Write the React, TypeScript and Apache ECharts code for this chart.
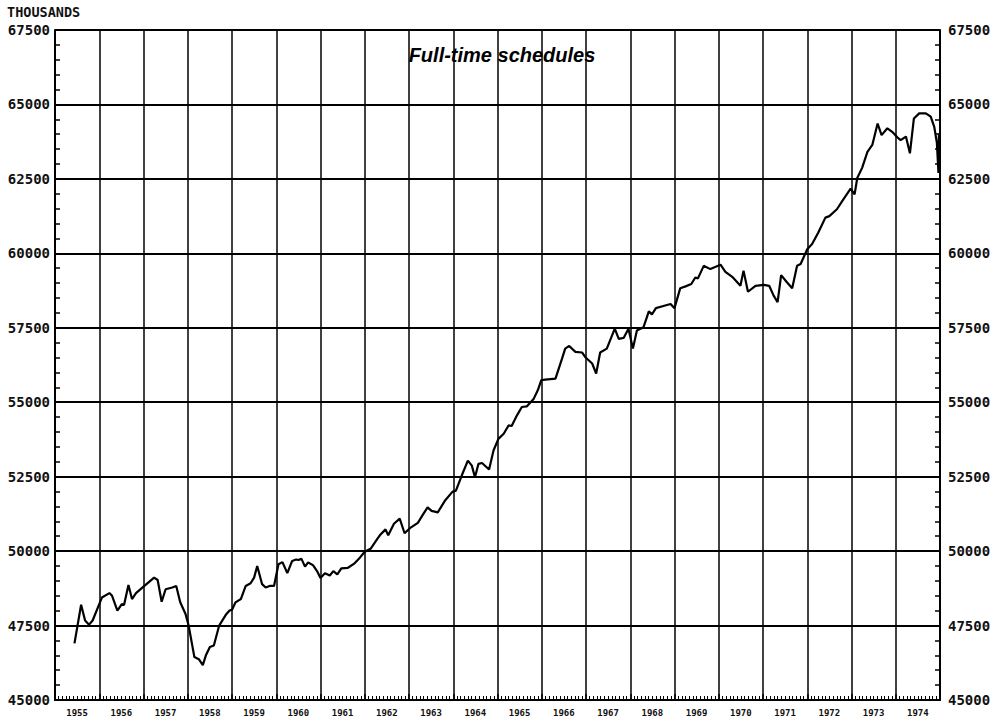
import React, { useEffect, useRef } from "react";
import * as echarts from "echarts";

const years = [
  "1955", "1956", "1957", "1958", "1959", "1960", "1961", "1962", "1963", "1964",
  "1965", "1966", "1967", "1968", "1969", "1970", "1971", "1972", "1973", "1974",
];

const yTicks = { min: 45000, max: 67500, step: 2500 };

// time (decimal year) and employment in thousands
const times = [
  1955.44, 1955.59, 1955.68, 1955.77, 1955.85, 1956.0, 1956.06, 1956.23, 1956.29, 1956.41,
  1956.51, 1956.56, 1956.66, 1956.74, 1956.83, 1957.02, 1957.24, 1957.32, 1957.41, 1957.5,
  1957.65, 1957.74, 1957.83, 1957.95, 1958.02, 1958.15, 1958.25, 1958.34, 1958.41, 1958.5,
  1958.59, 1958.71, 1958.86, 1958.94, 1959.0, 1959.08, 1959.2, 1959.31, 1959.42, 1959.5,
  1959.57, 1959.68, 1959.76, 1959.85, 1959.95, 1960.05, 1960.14, 1960.25, 1960.36, 1960.45,
  1960.5, 1960.57, 1960.65, 1960.72, 1960.83, 1960.93, 1961.0, 1961.1, 1961.21, 1961.29,
  1961.38, 1961.47, 1961.62, 1961.77, 1961.89, 1962.0, 1962.14, 1962.23, 1962.34, 1962.47,
  1962.53, 1962.66, 1962.79, 1962.9, 1963.02, 1963.2, 1963.3, 1963.42, 1963.51, 1963.65,
  1963.82, 1963.98, 1964.06, 1964.19, 1964.33, 1964.42, 1964.49, 1964.57, 1964.65, 1964.81,
  1964.91, 1965.02, 1965.14, 1965.25, 1965.32, 1965.44, 1965.55, 1965.66, 1965.82, 1965.91,
  1965.99, 1966.08, 1966.31, 1966.46, 1966.53, 1966.62, 1966.76, 1966.91, 1966.98, 1967.14,
  1967.23, 1967.32, 1967.47, 1967.65, 1967.74, 1967.85, 1967.96, 1968.06, 1968.15, 1968.3,
  1968.42, 1968.49, 1968.58, 1968.79, 1968.91, 1969.0, 1969.13, 1969.25, 1969.38, 1969.47,
  1969.53, 1969.66, 1969.81, 1970.04, 1970.15, 1970.32, 1970.49, 1970.56, 1970.66, 1970.83,
  1971.02, 1971.14, 1971.24, 1971.33, 1971.41, 1971.54, 1971.66, 1971.77, 1971.85, 1972.0,
  1972.11, 1972.25, 1972.41, 1972.5, 1972.67, 1972.79, 1972.98, 1973.07, 1973.13, 1973.24,
  1973.36, 1973.47, 1973.59, 1973.68, 1973.81, 1973.92, 1974.04, 1974.11, 1974.23, 1974.32,
  1974.41, 1974.53, 1974.68, 1974.79, 1974.87, 1974.93, 1974.965, 1974.975, 1975.0,
];

const fullTime = [
  46900, 48200, 47670, 47530, 47670, 48220, 48440, 48590, 48500, 48000,
  48220, 48190, 48860, 48390, 48590, 48830, 49110, 49030, 48300, 48720,
  48780, 48830, 48280, 47890, 47500, 46440, 46370, 46170, 46500, 46780,
  46830, 47500, 47860, 48000, 48030, 48280, 48390, 48830, 48920, 49110,
  49500, 48890, 48780, 48830, 48830, 49560, 49630, 49260, 49670, 49720,
  49700, 49740, 49480, 49620, 49530, 49310, 49100, 49260, 49180, 49330,
  49220, 49420, 49440, 49590, 49780, 49980, 50090, 50290, 50530, 50730,
  50530, 50920, 51090, 50600, 50770, 50950, 51190, 51470, 51350, 51300,
  51710, 51990, 52030, 52530, 53040, 52870, 52480, 52930, 52960, 52740,
  53380, 53770, 53940, 54220, 54200, 54560, 54840, 54860, 55120, 55400,
  55740, 55760, 55790, 56470, 56800, 56890, 56690, 56670, 56520, 56300,
  55960, 56670, 56800, 57470, 57130, 57160, 57470, 56800, 57410, 57520,
  58050, 57950, 58160, 58250, 58300, 58160, 58830, 58890, 58970, 59190,
  59160, 59580, 59470, 59620, 59380, 59190, 58910, 59420, 58710, 58910,
  58940, 58910, 58580, 58360, 59270, 59030, 58830, 59580, 59640, 60140,
  60310, 60700, 61200, 61250, 61480, 61750, 62170, 61980, 62530, 62870,
  63410, 63640, 64360, 63970, 64200, 64080, 63890, 63800, 63920, 63360,
  64530, 64700, 64700, 64590, 64250, 63700, 62700, 64000, 64000,
];

const chartTitle = "Full-time schedules";
const unitLabel = "THOUSANDS";

const mono = "'DejaVu Sans Mono', monospace";

export default function App() {
  const ref = useRef<HTMLDivElement>(null);

  useEffect(() => {
    if (!ref.current) return;
    const chart = echarts.init(ref.current, undefined, { renderer: "svg" });
    const data = times.map((t, i) => [t, fullTime[i]]);

    const yAxisBase = {
      type: "value" as const,
      min: yTicks.min,
      max: yTicks.max,
      interval: yTicks.step,
      axisLine: { show: true, lineStyle: { color: "#000", width: 2 } },
      axisTick: { show: true, inside: true, length: 5, lineStyle: { color: "#000", width: 1.5 } },
      minorTick: { show: true, splitNumber: 5, length: 5, lineStyle: { color: "#000", width: 1.5 } },
      axisLabel: {
        formatter: (v: number) => String(v),
        color: "#111",
        fontFamily: mono,
        fontWeight: "bold",
        fontSize: 14,
        margin: 5,
      },
    };

    chart.setOption({
      animation: false,
      backgroundColor: "#fff",
      grid: { left: 55, right: 58, top: 30, bottom: 22, containLabel: false },
      graphic: [
        {
          type: "text",
          left: 7,
          top: 5,
          style: { text: unitLabel, fill: "#111", font: `bold 13.5px ${mono}` },
        },
        {
          type: "text",
          x: 502,
          y: 55,
          style: {
            text: chartTitle,
            fill: "#000",
            font: "italic bold 20px 'Liberation Sans', Arial, sans-serif",
            textAlign: "center",
            textVerticalAlign: "middle",
          },
        },
      ],
      xAxis: [
        {
          type: "value",
          min: 1955,
          max: 1975,
          interval: 1,
          position: "bottom",
          axisLine: { show: true, lineStyle: { color: "#000", width: 2 } },
          axisTick: { show: true, inside: true, length: 6, lineStyle: { color: "#000", width: 1.5 } },
          minorTick: { show: true, splitNumber: 12, length: 4, lineStyle: { color: "#000", width: 1 } },
          axisLabel: { show: false },
          splitLine: { show: true, lineStyle: { color: "#000", width: 1.5 } },
        },
        {
          type: "category",
          data: years,
          position: "bottom",
          boundaryGap: true,
          axisLine: { show: false },
          axisTick: { show: false },
          axisLabel: {
            color: "#111",
            fontFamily: mono,
            fontWeight: "bold",
            fontSize: 9,
            margin: 8,
          },
          splitLine: { show: false },
        },
      ],
      yAxis: [
        {
          ...yAxisBase,
          position: "left",
          splitLine: { show: true, lineStyle: { color: "#000", width: 1.8 } },
        },
        {
          ...yAxisBase,
          position: "right",
          splitLine: { show: false },
          axisLabel: { ...yAxisBase.axisLabel, margin: 8 },
        },
      ],
      series: [
        {
          type: "line",
          xAxisIndex: 0,
          yAxisIndex: 0,
          data,
          showSymbol: false,
          symbol: "none",
          lineStyle: { color: "#000", width: 2.2 },
        },
      ],
    });

    return () => chart.dispose();
  }, []);

  return (
    <div
      ref={ref}
      style={{ position: "fixed", left: 0, top: 0, width: 998, height: 722, background: "#fff" }}
    />
  );
}
